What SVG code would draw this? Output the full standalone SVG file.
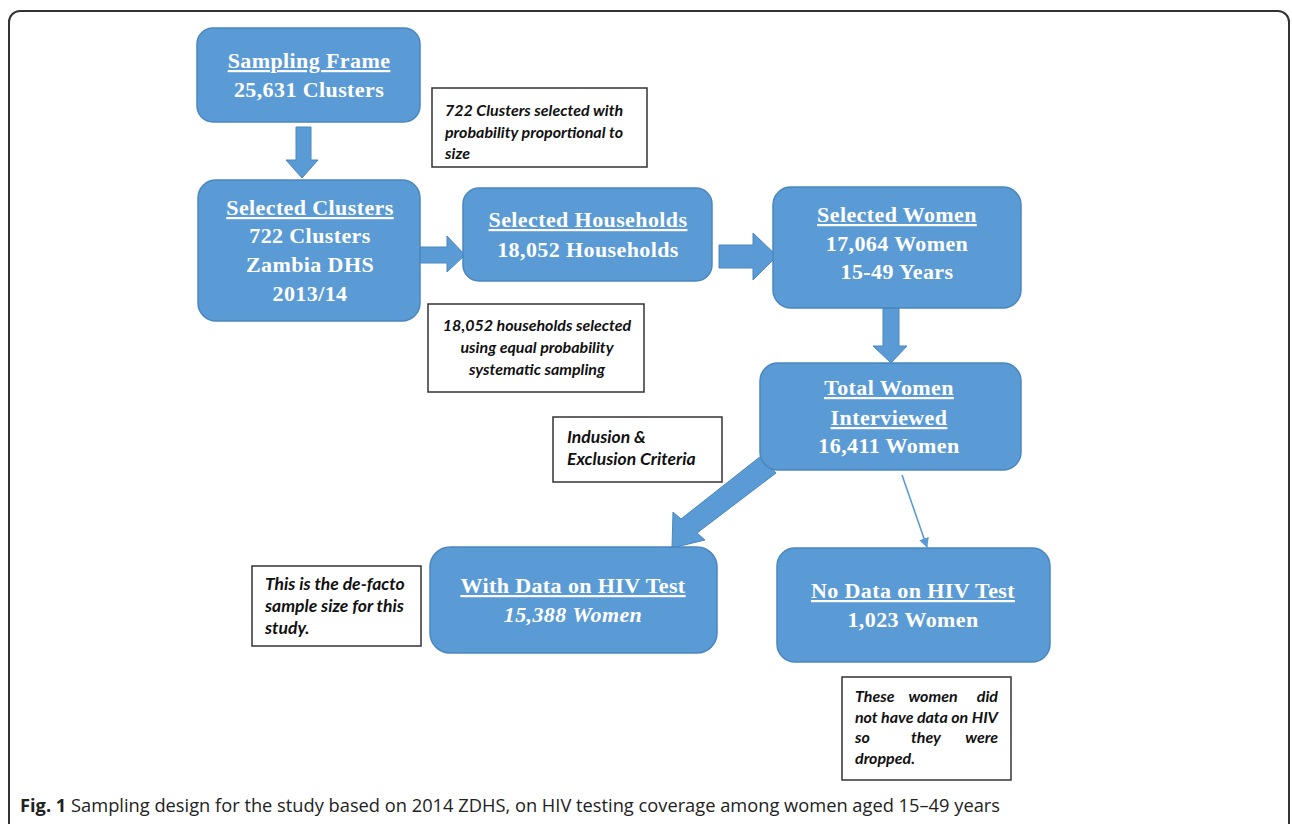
<svg xmlns="http://www.w3.org/2000/svg" width="1292" height="824" viewBox="0 0 1292 824">
<style>
.box{fill:#5b9bd5;stroke:#4a86bf;stroke-width:1.5}
.arr{fill:#5b9bd5;stroke:#4a86bf;stroke-width:1}
.t{font-family:"Liberation Serif","Times New Roman",serif;font-weight:bold;font-size:22px;fill:#ffffff;text-anchor:middle;letter-spacing:0.4px}
.u{text-decoration:underline}
.note{fill:#ffffff;stroke:#333333;stroke-width:1.5}
.n{font-family:Lato,"Open Sans",sans-serif;font-weight:bold;font-style:italic;font-size:16px;fill:#111111}
.nb{font-size:17.5px}
.cap{font-family:"Open Sans","Liberation Sans",sans-serif;font-size:18px;fill:#222222}
</style>
<defs>
<marker id="thin" viewBox="0 0 10 10" refX="9" refY="5" markerWidth="10" markerHeight="10" orient="auto" markerUnits="userSpaceOnUse">
<path d="M0,0 L10,5 L0,10 z" fill="#5b9bd5"/>
</marker>
</defs>
<rect x="9" y="11" width="1280" height="840" rx="11" fill="#ffffff" stroke="#333333" stroke-width="2"/>

<g id="connectors">
<polygon class="arr" points="296,127 311,127 311,160 318,160 302,178 286,160 296,160"/>
<polygon class="arr" points="417,247 447,247 447,236 465,255 447,272 447,263 417,263"/>
<polygon class="arr" points="719,245 753,245 753,233 777,256 753,280 753,268 719,268"/>
<polygon class="arr" points="883,308 899,308 899,346 907,346 891,363 873,346 883,346"/>
<polygon class="arr" points="761,456 776,473 697,533 705,540 672,548 673,512 681,519"/>
<line x1="902" y1="475" x2="927" y2="547" stroke="#5b9bd5" stroke-width="1.6" marker-end="url(#thin)"/>
</g>

<g id="node-sampling-frame">
<rect class="box" x="197" y="28" width="223" height="94" rx="16"/>
<text class="t u" x="309" y="68">Sampling Frame</text>
<text class="t" x="309" y="97">25,631 Clusters</text>
</g>

<g id="node-selected-clusters">
<rect class="box" x="198" y="180" width="222" height="141" rx="18"/>
<text class="t u" x="310" y="215">Selected Clusters</text>
<text class="t" x="310" y="243">722 Clusters</text>
<text class="t" x="310" y="272">Zambia DHS</text>
<text class="t" x="310" y="301">2013/14</text>
</g>

<g id="node-selected-households">
<rect class="box" x="463" y="188" width="249" height="93" rx="16"/>
<text class="t u" x="588" y="227">Selected Households</text>
<text class="t" x="588" y="257">18,052 Households</text>
</g>

<g id="node-selected-women">
<rect class="box" x="773" y="187" width="248" height="121" rx="18"/>
<text class="t u" x="897" y="222">Selected Women</text>
<text class="t" x="897" y="251">17,064 Women</text>
<text class="t" x="897" y="279">15-49 Years</text>
</g>

<g id="node-total-women">
<rect class="box" x="760" y="363" width="261" height="107" rx="18"/>
<text class="t u" x="889" y="395">Total Women</text>
<text class="t u" x="889" y="425">Interviewed</text>
<text class="t" x="889" y="453">16,411 Women</text>
</g>

<g id="node-with-data">
<rect class="box" x="430" y="547" width="287" height="106" rx="20"/>
<text class="t u" x="573" y="593">With Data on HIV Test</text>
<text class="t" x="573" y="622" font-style="italic">15,388 Women</text>
</g>

<g id="node-no-data">
<rect class="box" x="777" y="548" width="273" height="114" rx="18"/>
<text class="t u" x="913" y="598">No Data on HIV Test</text>
<text class="t" x="913" y="627">1,023 Women</text>
</g>

<g id="note-clusters">
<rect class="note" x="432" y="88" width="215" height="79"/>
<text class="n" x="445" y="116">722 Clusters selected with</text>
<text class="n" x="445" y="138">probability proportional to</text>
<text class="n" x="445" y="159">size</text>
</g>

<g id="note-households">
<rect class="note" x="428" y="304" width="216" height="88"/>
<text class="n" x="537" y="331" text-anchor="middle">18,052 households selected</text>
<text class="n" x="537" y="353" text-anchor="middle">using equal probability</text>
<text class="n" x="537" y="375" text-anchor="middle">systematic sampling</text>
</g>

<g id="note-criteria">
<rect class="note" x="553" y="417" width="169" height="65"/>
<text class="n nb" x="567" y="443">Indusion &amp;</text>
<text class="n nb" x="567" y="465">Exclusion Criteria</text>
</g>

<g id="note-defacto">
<rect class="note" x="252" y="566" width="169" height="80"/>
<text class="n nb" x="265" y="590">This is the de-facto</text>
<text class="n nb" x="265" y="612">sample size for this</text>
<text class="n nb" x="265" y="634">study.</text>
</g>

<g id="note-dropped">
<rect class="note" x="842" y="677" width="169" height="103"/>
<text class="n" x="855" y="702">These</text>
<text class="n" x="933" y="702" text-anchor="middle">women</text>
<text class="n" x="998" y="702" text-anchor="end">did</text>
<text class="n" x="855" y="723" textLength="143" lengthAdjust="spacing">not have data on HIV</text>
<text class="n" x="855" y="743">so</text>
<text class="n" x="926" y="743" text-anchor="middle">they</text>
<text class="n" x="998" y="743" text-anchor="end">were</text>
<text class="n" x="855" y="764">dropped.</text>
</g>

<g id="caption">
<text class="cap" x="20" y="812" textLength="980" lengthAdjust="spacingAndGlyphs"><tspan font-weight="bold">Fig. 1</tspan> Sampling design for the study based on 2014 ZDHS, on HIV testing coverage among women aged 15–49 years</text>
</g>
</svg>
